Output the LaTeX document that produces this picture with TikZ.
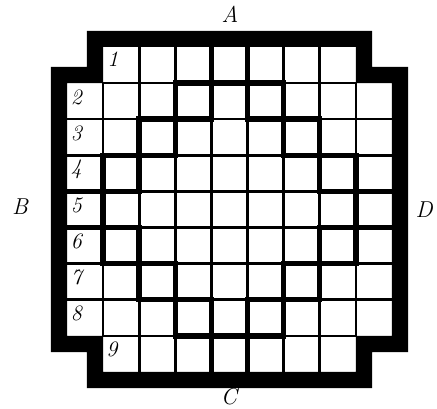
\documentclass[tikz,border=0pt]{standalone}
\begin{document}
\begin{tikzpicture}[x=1pt,y=-1pt,
  thinline/.style={line width=2.6pt},
  thickline/.style={line width=5.5pt,line cap=rect,line join=miter},
  numlabel/.style={font=\fontsize{22}{22}\selectfont\itshape,inner sep=0pt},
  sidelabel/.style={font=\fontsize{23}{23}\selectfont\itshape,inner sep=0pt}]
\useasboundingbox (0,0) rectangle (437,409);
\fill[white] (0,0) rectangle (437,409);
\begin{scope}[shift={(67,47)},x=36.1pt,y=-36.1pt]
  \def\t{0.45}
  % frame band
  \fill[black,even odd rule]
    (1-\t,-\t) -- (8+\t,-\t) -- (8+\t,1-\t) -- (9+\t,1-\t) -- (9+\t,8+\t) --
    (8+\t,8+\t) -- (8+\t,9+\t) -- (1-\t,9+\t) -- (1-\t,8+\t) -- (-\t,8+\t) --
    (-\t,1-\t) -- (1-\t,1-\t) -- cycle
    (1,0) -- (8,0) -- (8,1) -- (9,1) -- (9,8) -- (8,8) -- (8,9) -- (1,9) --
    (1,8) -- (0,8) -- (0,1) -- (1,1) -- cycle;
  % thin grid
  \foreach \i in {2,...,7} {
    \draw[thinline] (\i,0) -- (\i,9);
    \draw[thinline] (0,\i) -- (9,\i);
  }
  \draw[thinline] (1,1) -- (1,8);
  \draw[thinline] (8,1) -- (8,8);
  \draw[thinline] (1,1) -- (8,1);
  \draw[thinline] (1,8) -- (8,8);
  % thick dividing lines
  \draw[thickline] (0,4) -- (2,4) -- (2,2) -- (4,2) -- (4,0);
  \draw[thickline] (5,0) -- (5,2) -- (7,2) -- (7,4) -- (9,4);
  \draw[thickline] (9,5) -- (7,5) -- (7,7) -- (5,7) -- (5,9);
  \draw[thickline] (4,9) -- (4,7) -- (2,7) -- (2,5) -- (0,5);
  \draw[thickline] (1,3) -- (3,3) -- (3,1) -- (6,1) -- (6,3) -- (8,3) --
    (8,6) -- (6,6) -- (6,8) -- (3,8) -- (3,6) -- (1,6) -- cycle;
  % numbers
  \node[numlabel] (n1) at (1.27,0.33) {1};
  \foreach \r in {2,...,8} {
    \node[numlabel] (n\r) at (0.26,\r-1+0.39) {\r};
  }
  \node[numlabel] (n9) at (1.24,8.38) {9};
\end{scope}
\node[sidelabel] (A) at (230,14) {A};
\node[sidelabel] (B) at (20,207) {B};
\node[sidelabel] (C) at (229,397) {C};
\node[sidelabel] (D) at (424,210) {D};
\end{tikzpicture}
\end{document}
